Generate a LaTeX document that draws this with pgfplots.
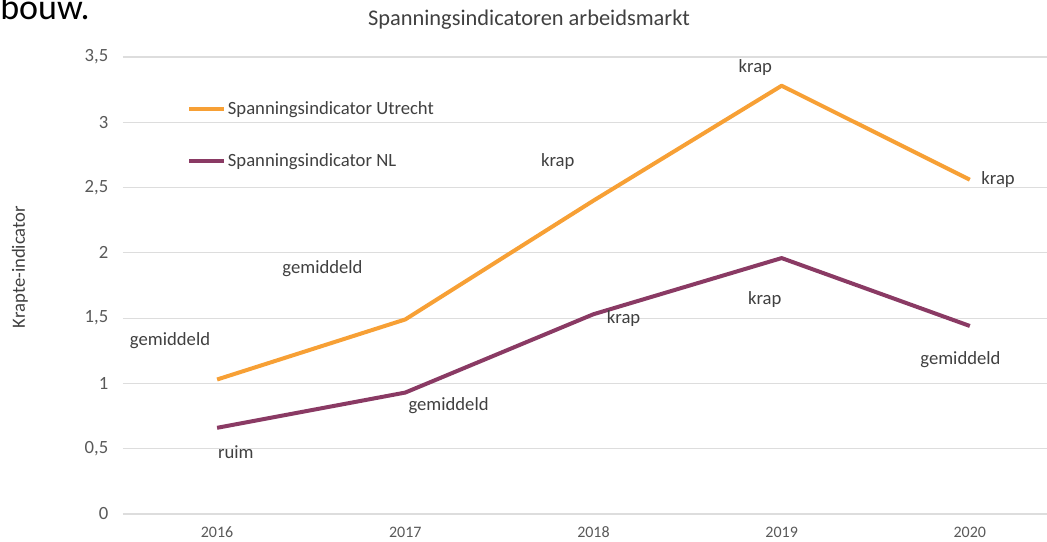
\documentclass[border=0pt]{standalone}
\usepackage{fontspec}
\setmainfont{Carlito}
\usepackage{pgfplots}
\pgfplotsset{compat=1.18}
\definecolor{uorange}{HTML}{F7A035}
\definecolor{nlpurple}{HTML}{8A3A64}
\definecolor{txt}{HTML}{404040}
\definecolor{tickc}{HTML}{595959}
\definecolor{gridc}{HTML}{DDDDDD}
\begin{document}
\begin{tikzpicture}[x=1pt,y=1pt]
\useasboundingbox (-92.25,-21) rectangle (693,385.5);
\clip (-92.25,-21) rectangle (693,385.5);
\begin{axis}[
  at={(0,0)}, anchor=south west, scale only axis,
  width=693pt, height=342.75pt,
  xmin=2015.5, xmax=2020.41, ymin=0, ymax=3.5,
  xtick={2016,2017,2018,2019,2020},
  xticklabels={2016,2017,2018,2019,2020},
  ytick={0,0.5,1,1.5,2,2.5,3,3.5},
  ymajorgrids, grid style={gridc, line width=0.9pt},
  axis line style={draw=none},
  major tick length=0pt,
  /pgf/number format/use comma,
  /pgf/number format/1000 sep={},
  /pgf/number format/assume math mode=true,
  yticklabel style={font=\fontsize{14}{16}\selectfont, text=tickc, xshift=-7.5pt},
  xticklabel style={font=\fontsize{12}{14}\selectfont, text=tickc, yshift=-6pt},
  clip=false,
  legend cell align=left,
  legend style={at={(axis cs:2015.84,3.18)}, anchor=north west, draw=none, fill=none,
    font=\fontsize{14}{16}\selectfont, text=txt, row sep=25.5pt, inner sep=0pt,
    nodes={inner sep=1.5pt}},
  legend image code/.code={\draw[#1, line width=3pt] (0pt,0pt) -- (26pt,0pt);},
]
\addplot[uorange, line width=3pt, line join=round] coordinates {(2016,1.03)(2017,1.49)(2018,2.40)(2019,3.28)(2020,2.56)};
\addlegendentry{Spanningsindicator Utrecht}
\addplot[nlpurple, line width=3pt, line join=round] coordinates {(2016,0.66)(2017,0.93)(2018,1.53)(2019,1.96)(2020,1.44)};
\addlegendentry{Spanningsindicator NL}
\begin{scope}[every node/.style={font=\fontsize{14}{16}\selectfont, text=txt}]
\node at (axis cs:2018.86,3.42) {krap};
\node at (axis cs:2017.81,2.70) {krap};
\node at (axis cs:2020.15,2.56) {krap};
\node at (axis cs:2016.56,1.88) {gemiddeld};
\node at (axis cs:2015.75,1.33) {gemiddeld};
\node at (axis cs:2018.91,1.64) {krap};
\node at (axis cs:2018.16,1.50) {krap};
\node at (axis cs:2019.95,1.18) {gemiddeld};
\node at (axis cs:2017.23,0.83) {gemiddeld};
\node at (axis cs:2016.10,0.47) {ruim};
\end{scope}
\end{axis}
\node[font=\fontsize{16.8}{19}\selectfont, text=txt] at (304.5,370.5) {Spanningsindicatoren arbeidsmarkt};
\node[rotate=90, font=\fontsize{14}{16}\selectfont, text=txt] at (-77.25,185.25) {Krapte-indicator};
\node[anchor=base west, inner sep=0pt, font=\fontsize{27}{32}\selectfont] at (-92.25,370.5) {bouw.};
\end{tikzpicture}
\end{document}
